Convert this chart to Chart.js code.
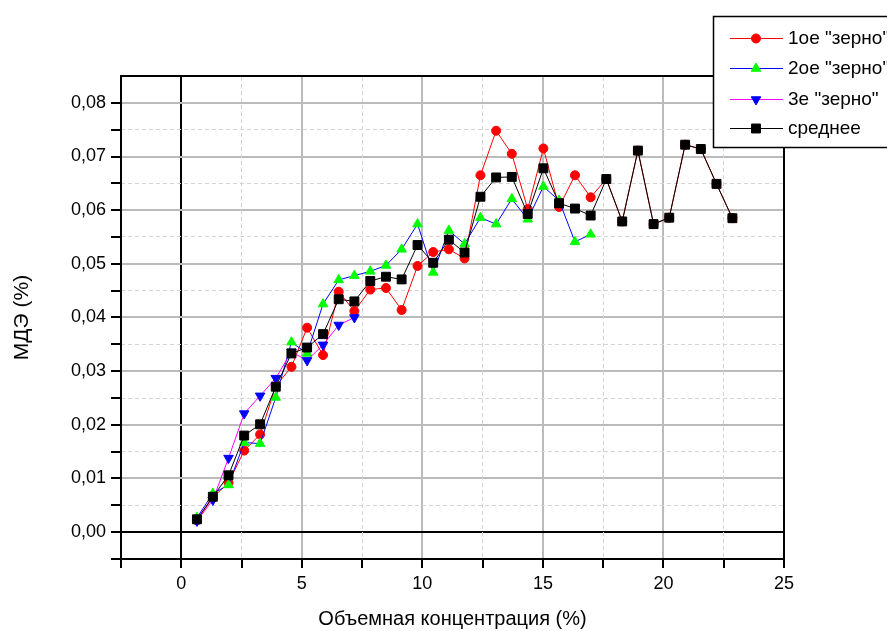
<!DOCTYPE html>
<html>
<head>
<meta charset="utf-8">
<script src="https://cdn.jsdelivr.net/npm/chart.js@4.4.0/dist/chart.umd.min.js"></script>
<style>
  body { margin: 0; background: #fff; }
</style>
</head>
<body>
<canvas id="myChart" width="887" height="631"></canvas>
<script>
// объемная концентрация, %
const concList = [0.65, 1.31, 1.96, 2.61, 3.27, 3.92, 4.57, 5.22, 5.88, 6.53,
                  7.18, 7.84, 8.49, 9.14, 9.80, 10.45, 11.10, 11.75, 12.41, 13.06,
                  13.71, 14.37, 15.02, 15.67, 16.33, 16.98, 17.63, 18.29, 18.94, 19.59,
                  20.24, 20.90, 21.55, 22.20, 22.86];

// МДЭ, %
const grain1 = [0.0022, 0.0065, 0.0092, 0.0152, 0.0182, 0.0272, 0.0308, 0.0381, 0.0330, 0.0448,
                0.0412, 0.0452, 0.0455, 0.0414, 0.0496, 0.0522, 0.0527, 0.0510, 0.0665, 0.0748,
                0.0705, 0.0602, 0.0715, 0.0606, 0.0665, 0.0624, 0.0658, 0.0579, 0.0711, 0.0574,
                0.0586, 0.0722, 0.0714, 0.0649, 0.0585];
const grain2 = [0.0027, 0.0072, 0.0088, 0.0167, 0.0165, 0.0251, 0.0354, 0.0333, 0.0425, 0.0470,
                0.0478, 0.0486, 0.0497, 0.0527, 0.0574, 0.0484, 0.0562, 0.0537, 0.0586, 0.0574,
                0.0621, 0.0583, 0.0644, 0.0618, 0.0541, 0.0555];
const grain3 = [0.0021, 0.0060, 0.0138, 0.0221, 0.0254, 0.0287, 0.0336, 0.0320, 0.0349, 0.0386,
                0.0400];
const meanList = [0.0024, 0.0066, 0.0106, 0.0180, 0.0201, 0.0271, 0.0333, 0.0344, 0.0369, 0.0434,
                  0.0430, 0.0468, 0.0476, 0.0471, 0.0535, 0.0502, 0.0545, 0.0521, 0.0625, 0.0661,
                  0.0662, 0.0593, 0.0678, 0.0613, 0.0603, 0.0590, 0.0658, 0.0579, 0.0711, 0.0574,
                  0.0586, 0.0722, 0.0714, 0.0649, 0.0585];

const labelList = ['1ое "зерно"', '2ое "зерно"', '3е "зерно"', 'среднее'];

// подписи осей
const xTickValues = [0, 5, 10, 15, 20, 25];
const xTickLabels = ['0', '5', '10', '15', '20', '25'];
const yTickValues = [0, 0.01, 0.02, 0.03, 0.04, 0.05, 0.06, 0.07, 0.08];
const yTickLabels = ['0,00', '0,01', '0,02', '0,03', '0,04', '0,05', '0,06', '0,07', '0,08'];

const FONT = 'Liberation Sans, Arial, sans-serif';

function toPoints(arr) {
  return arr.map(function (v, i) { return { x: concList[i], y: v }; });
}
function findIdx(list, v, eps) {
  for (let i = 0; i < list.length; i++) {
    if (Math.abs(list[i] - v) < eps) return i;
  }
  return -1;
}

// легенда в рамке справа сверху
const legendBox = {
  id: 'legendBox',
  afterDraw(chart) {
    const ctx = chart.ctx;
    ctx.save();
    ctx.fillStyle = '#fff';
    ctx.fillRect(713, 16, 200, 132);
    ctx.strokeStyle = '#000';
    ctx.lineWidth = 1.5;
    ctx.strokeRect(713.5, 16.5, 200, 131);
    const rows = [38, 68, 99, 128];
    chart.data.datasets.forEach(function (ds, i) {
      const y = rows[i];
      ctx.strokeStyle = ds.borderColor;
      ctx.lineWidth = 1;
      ctx.beginPath();
      ctx.moveTo(730, y + 0.5);
      ctx.lineTo(783, y + 0.5);
      ctx.stroke();
      ctx.fillStyle = ds.pointBackgroundColor;
      ctx.strokeStyle = ds.pointBorderColor;
      Chart.helpers.drawPoint(ctx, {
        pointStyle: ds.pointStyle,
        radius: ds.pointRadius,
        rotation: ds.pointRotation || 0,
        borderWidth: 1
      }, 756, y + 0.5);
      ctx.fillStyle = '#000';
      ctx.font = '19px ' + FONT;
      ctx.textBaseline = 'middle';
      ctx.textAlign = 'left';
      ctx.fillText(ds.label, 788, y + 1);
    });
    ctx.restore();
  }
};

const ctx = document.getElementById('myChart').getContext('2d');
const myChart = new Chart(ctx, {
  type: 'line',
  data: {
    datasets: [{
      label: labelList[0],
      data: toPoints(grain1),
      borderColor: '#ff0000',
      pointBackgroundColor: '#ff0000',
      pointBorderColor: '#ff0000',
      pointStyle: 'circle',
      pointRadius: 4.5,
      order: 4
    }, {
      label: labelList[1],
      data: toPoints(grain2),
      borderColor: '#0000ff',
      pointBackgroundColor: '#00ff00',
      pointBorderColor: '#00ff00',
      pointStyle: 'triangle',
      pointRadius: 5.5,
      order: 3
    }, {
      label: labelList[2],
      data: toPoints(grain3),
      borderColor: '#ff00ff',
      pointBackgroundColor: '#0000ff',
      pointBorderColor: '#0000ff',
      pointStyle: 'triangle',
      pointRotation: 180,
      pointRadius: 5.5,
      order: 2
    }, {
      label: labelList[3],
      data: toPoints(meanList),
      borderColor: '#000000',
      pointBackgroundColor: '#000000',
      pointBorderColor: '#000000',
      pointStyle: 'rect',
      pointRadius: 6.3,
      order: 1
    }]
  },
  options: {
    responsive: false,
    animation: false,
    layout: { padding: { left: 0, right: 103, top: 76, bottom: 0 } },
    elements: {
      line: { borderWidth: 1, tension: 0, fill: false },
      point: { borderWidth: 1, hoverRadius: 5 }
    },
    plugins: {
      legend: { display: false },
      tooltip: { enabled: false }
    },
    scales: {
      x: {
        type: 'linear',
        position: 'bottom',
        min: -2.5,
        max: 25,
        ticks: {
          stepSize: 2.5,
          autoSkip: false,
          maxRotation: 0,
          color: '#000',
          padding: 5,
          font: { family: FONT, size: 18 },
          callback: function (value) {
            const k = findIdx(xTickValues, value, 1e-6);
            return k >= 0 ? xTickLabels[k] : '';
          }
        },
        grid: {
          color: function (c) {
            const v = c.tick ? c.tick.value : null;
            if (v === null) return 'rgba(0,0,0,0)';
            if (Math.abs(v) < 1e-9) return '#000';
            if (findIdx(xTickValues, v, 1e-6) >= 0 && v < 25) return '#bbbbbb';
            return 'rgba(0,0,0,0)';
          },
          lineWidth: 2,
          tickColor: '#000',
          tickWidth: 2,
          tickLength: 9
        },
        border: { display: true, color: '#000', width: 2 },
        title: {
          display: true,
          text: 'Объемная концентрация (%)',
          color: '#000',
          font: { family: FONT, size: 20 },
          padding: { top: 0, bottom: 0 }
        },
        afterFit: function (s) { s.height = 72; }
      },
      y: {
        type: 'linear',
        position: 'left',
        min: -0.005,
        max: 0.085,
        ticks: {
          stepSize: 0.005,
          autoSkip: false,
          color: '#000',
          padding: 5,
          font: { family: FONT, size: 18 },
          callback: function (value) {
            const k = findIdx(yTickValues, value, 1e-7);
            return k >= 0 ? yTickLabels[k] : '';
          }
        },
        grid: {
          color: function (c) {
            const v = c.tick ? c.tick.value : null;
            if (v === null) return 'rgba(0,0,0,0)';
            if (Math.abs(v) < 1e-9) return '#000';
            if (findIdx(yTickValues, v, 1e-7) >= 0) return '#bbbbbb';
            return 'rgba(0,0,0,0)';
          },
          lineWidth: 2,
          tickColor: function (c) {
            // у верхнего угла рамки засечки нет
            return c.tick && c.tick.value > 0.0845 ? 'rgba(0,0,0,0)' : '#000';
          },
          tickWidth: 2,
          tickLength: 10
        },
        border: { display: true, color: '#000', width: 2 },
        title: {
          display: true,
          text: 'МДЭ (%)',
          color: '#000',
          font: { family: FONT, size: 21 },
          padding: { top: 10, bottom: 0 }
        },
        afterFit: function (s) { s.width = 121; }
      },
      // вспомогательные оси: пунктирная сетка и верх/право рамки
      x2: {
        type: 'linear',
        position: 'top',
        min: -2.5,
        max: 25,
        ticks: { stepSize: 2.5, display: false },
        grid: {
          drawTicks: false,
          lineWidth: 1,
          color: function (c) {
            const v = c.tick ? c.tick.value : null;
            if (v === null || v <= -2.5 || v >= 25) return 'rgba(0,0,0,0)';
            return findIdx(xTickValues, v, 1e-6) >= 0 || Math.abs(v) < 1e-9 ? 'rgba(0,0,0,0)' : '#d4d4d4';
          }
        },
        border: { display: true, color: '#000', width: 2, dash: [4, 3] },
        afterFit: function (s) { s.height = 0; }
      },
      y2: {
        type: 'linear',
        position: 'right',
        min: -0.005,
        max: 0.085,
        ticks: { stepSize: 0.005, display: false },
        grid: {
          drawTicks: false,
          lineWidth: 1,
          color: function (c) {
            const v = c.tick ? c.tick.value : null;
            if (v === null || v <= -0.0049 || v >= 0.0849) return 'rgba(0,0,0,0)';
            return findIdx(yTickValues, v, 1e-7) >= 0 ? 'rgba(0,0,0,0)' : '#d4d4d4';
          }
        },
        border: { display: true, color: '#000', width: 2, dash: [4, 3] },
        afterFit: function (s) { s.width = 0; }
      }
    }
  },
  plugins: [legendBox]
});
</script>
</body>
</html>
